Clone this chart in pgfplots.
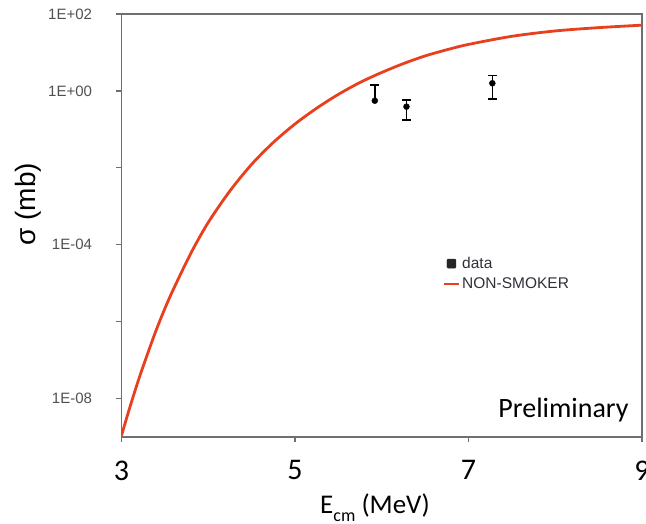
\documentclass[border=0pt]{standalone}
\usepackage{fontspec}
\setmainfont{Carlito}
\newfontfamily\arial{Liberation Sans}
\usepackage{pgfplots}
\pgfplotsset{compat=1.18}
\definecolor{nsred}{HTML}{E8401F}
\definecolor{axgray}{HTML}{6F6F6F}
\definecolor{lblgray}{HTML}{505050}
\definecolor{legtext}{HTML}{303038}

\begin{document}
\begin{tikzpicture}
\useasboundingbox (-121.5pt,-86pt) rectangle (524.5pt,437pt);
\begin{axis}[
    at={(0,0)}, anchor=south west,
    scale only axis, width=520.5pt, height=423pt,
    xmin=3, xmax=9,
    ymode=log, ymin=1e-9, ymax=1e2,
    axis line style={axgray, line width=1.3pt},
    xtick={3,5,7,9}, xticklabels={3,5,7,9},
    ytick={1e2,1,1e-2,1e-4,1e-6,1e-8},
    yticklabels={1E+02,1E+00,,1E-04,,1E-08},
    minor ytick={1e-9},
    xtick pos=bottom, ytick pos=left,
    tick align=outside, major tick length=5pt, minor tick length=0pt,
    tick style={axgray, line width=1.2pt},
    xticklabel style={font=\fontsize{30}{30}\selectfont, text=black, yshift=-15pt},
    yticklabel style={font=\arial\fontsize{15}{15}\selectfont, text=lblgray, xshift=-21pt},
    xlabel={E\raisebox{-0.3em}{\fontsize{18}{18}\selectfont cm} (MeV)},
    xlabel style={font=\fontsize{27}{27}\selectfont, at={(axis description cs:0.487,-0.18)}, anchor=base},
    ylabel={\arial\fontsize{28}{28}\selectfont σ (mb)},
    ylabel style={at={(axis description cs:-0.18,0.55)}, anchor=center},
    legend style={at={(rel axis cs:0.611,0.435)}, anchor=north west, draw=none, fill=none,
        font=\arial\fontsize{15.5}{15.5}\selectfont, text=legtext, row sep=4pt},
    legend cell align=left,
]
% first point: only the upper error bar is visible
\addplot[only marks, mark=*, mark size=3pt, black, forget plot,
    error bars/.cd, y dir=plus, y explicit,
    error bar style={black, line width=1.4pt},
    error mark options={rotate=90, mark size=4.5pt, line width=1.4pt}]
    coordinates {
    (5.920, 0.556) += (0, 0.86)
};
\addplot[only marks, mark=*, mark size=3pt, black, forget plot,
    error bars/.cd, y dir=both, y explicit,
    error bar style={black, line width=1.4pt},
    error mark options={rotate=90, mark size=4.5pt, line width=1.4pt}]
    coordinates {
    (6.285, 0.390) += (0, 0.19) -= (0, 0.215)
    (7.275, 1.580) += (0, 0.92) -= (0, 0.96)
};
\addplot[nsred, line width=2.8pt, smooth, forget plot] coordinates {
    (3.00, 1.096e-9) (3.10, 6.31e-9) (3.20, 3.24e-8) (3.30, 1.445e-7)
    (3.40, 6.03e-7) (3.50, 2.19e-6) (3.60, 7.08e-6) (3.80, 6.03e-5)
    (4.00, 3.80e-4) (4.25, 2.51e-3) (4.50, 1.23e-2) (4.75, 4.57e-2)
    (5.00, 0.138) (5.25, 0.355) (5.50, 0.813) (5.75, 1.66)
    (6.00, 3.02) (6.25, 5.13) (6.50, 8.13) (6.75, 11.75)
    (7.00, 16.2) (7.50, 26.3) (8.00, 36.3) (8.50, 44.2) (9.00, 51.3)
};
\addlegendimage{legend image code/.code={\fill[black!85, rounded corners=1pt] (3pt,-4.5pt) rectangle (12pt,4.5pt);}}
\addlegendentry{data}
\addlegendimage{legend image code/.code={\draw[nsred, line width=2.5pt] (0pt,0pt) -- (15pt,0pt);}}
\addlegendentry{NON-SMOKER}
\node[font=\fontsize{28}{28}\selectfont, anchor=base east] at (rel axis cs:0.981,0.045) {Preliminary};
\end{axis}
\end{tikzpicture}
\end{document}
